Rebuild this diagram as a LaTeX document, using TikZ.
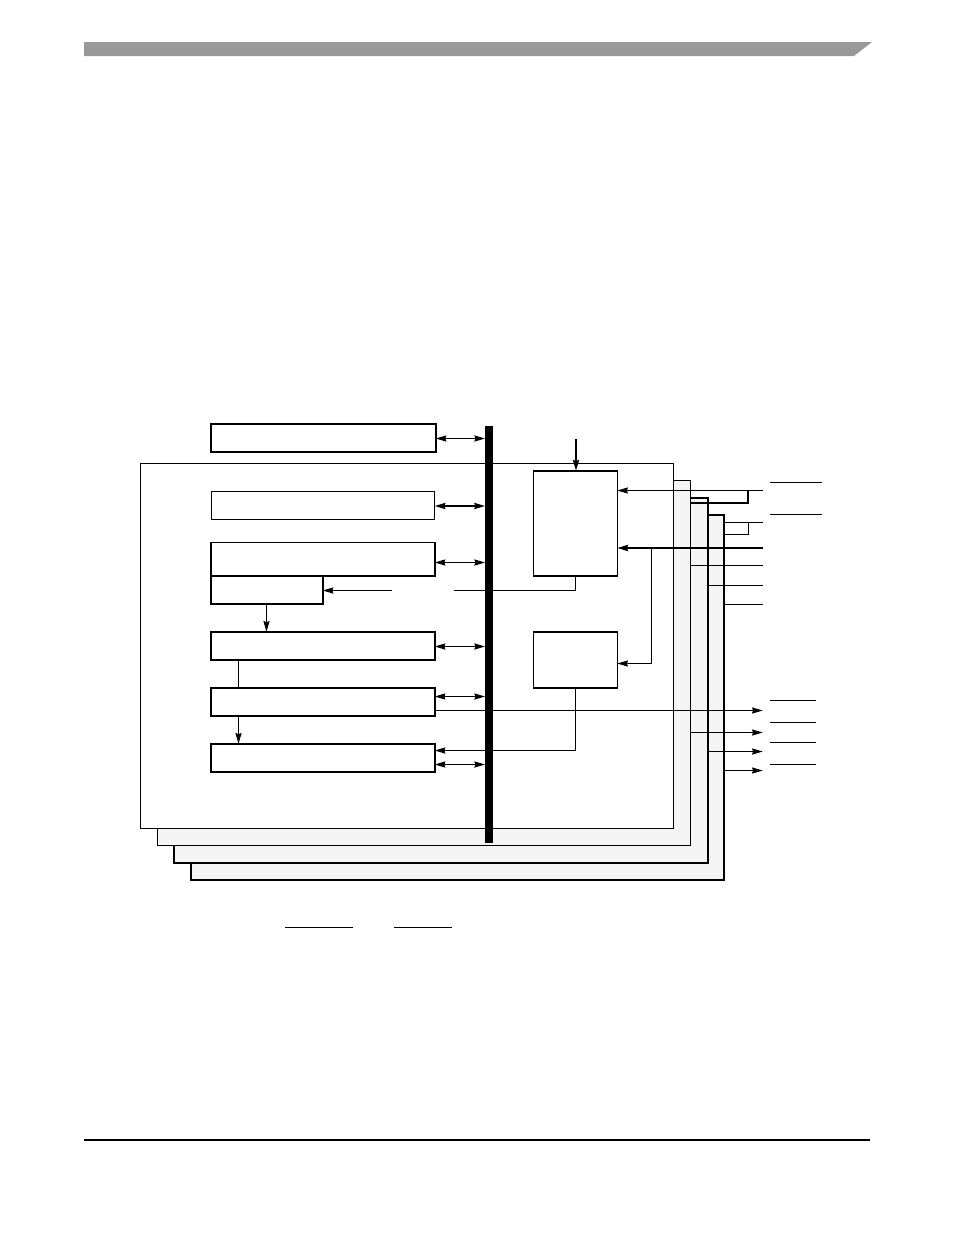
\documentclass[tikz,border=0pt]{standalone}
\usetikzlibrary{arrows.meta,fit}
\definecolor{hdrgray}{HTML}{999999}
\definecolor{framegray}{HTML}{F5F5F5}
\begin{document}
\begin{tikzpicture}[x=0.75pt,y=-0.75pt,
  thinln/.style={line width=0.72pt},
  thickln/.style={line width=1.5pt},
  tip/.style={-{Stealth[length=8pt,width=4.6pt,inset=0.8pt]}},
  dtip/.style={{Stealth[length=8pt,width=4.6pt,inset=0.8pt]}-{Stealth[length=8pt,width=4.6pt,inset=0.8pt]}},
  blk/.style={draw, line width=1.2pt, fill=white, inner sep=0pt, outer sep=0pt},
  lightblk/.style={draw, line width=0.8pt, fill=white, inner sep=0pt, outer sep=0pt},
  frm/.style={draw, fill=framegray, inner sep=0pt, outer sep=0pt},
  bar/.style={line width=0.75pt}
]
\useasboundingbox (0,0) rectangle (954,1235);

% header and footer
\fill[hdrgray] (84,42) -- (872,42) -- (854,56) -- (84,56) -- cycle;
\draw[line width=0.9pt] (84,1140) -- (870,1140);

% stacked frames
\node[frm, line width=1.3pt, fit={(191,515)(724,880)}] (F4) {};
\node[frm, line width=1.5pt, fit={(174,498)(708,863)}] (F3) {};
\node[frm, line width=1.0pt, fit={(157.5,480.5)(690.5,845.5)}] (F2) {};
\node[draw, fill=white, line width=0.9pt, inner sep=0pt, outer sep=0pt, fit={(140.5,463.5)(673.5,828.5)}] (F1) {};

% bus
\node[fill=black, inner sep=0pt, outer sep=0pt, fit={(485,426)(493,843)}] (bus) {};

% left blocks
\node[blk, fit={(210.7,423.7)(435.7,452)}] (T) {};
\node[lightblk, fit={(211.3,491.3)(434.7,519.3)}] (C) {};
\node[blk, fit={(210.7,542.3)(434.7,575.7)}] (D) {};
\node[blk, fit={(210.7,575.7)(322.7,604)}] (S) {};
\node[blk, fit={(210.7,631.7)(434.7,660)}] (G) {};
\node[blk, fit={(210.7,687.7)(434.7,716)}] (E) {};
\node[blk, fit={(210.7,743.7)(434.7,772)}] (Fb) {};

% right blocks
\node[blk, fit={(533.3,470.7)(617.3,576)}] (A) {};
\node[blk, fit={(533.3,631.7)(617.3,688)}] (B) {};

% helper coordinates (y levels)
\coordinate (yT) at (0,438.5);
\coordinate (yC) at (0,506);
\coordinate (yD) at (0,562.5);
\coordinate (yS) at (0,590.5);
\coordinate (yG) at (0,646.5);
\coordinate (yE) at (0,696.5);
\coordinate (yEo) at (0,710.5);
\coordinate (yFi) at (0,750.5);
\coordinate (yFb) at (0,764.5);
\coordinate (yA1) at (0,490.5);
\coordinate (yA2) at (0,548);
\coordinate (yB) at (0,663.5);
\coordinate (xV) at (238.5,0);

% bus connections
\draw[thinln, dtip] (T.east |- yT) -- (bus.west |- yT);
\draw[line width=1.3pt, dtip] (C.east |- yC) -- (bus.west |- yC);
\draw[thinln, dtip] (D.east |- yD) -- (bus.west |- yD);
\draw[thinln, dtip] (G.east |- yG) -- (bus.west |- yG);
\draw[thinln, dtip] (E.east |- yE) -- (bus.west |- yE);
\draw[thinln, dtip] (Fb.east |- yFb) -- (bus.west |- yFb);

% vertical links on left
\coordinate (xS) at (266.5,0);
\draw[thinln, tip] (S.south -| xS) -- (G.north -| xS);
\draw[thinln] (G.south -| xV) -- (E.north -| xV);
\draw[thinln, tip] (E.south -| xV) -- (Fb.north -| xV);

% A bottom to S
\coordinate (xA) at (575.5,0);
\coordinate (aTurn) at (575.5,590.5);
\coordinate (aEnd) at (454,590.5);
\coordinate (sIn) at (391.7,590.5);
\draw[thinln] (A.south -| xA) -- (aTurn) -- (aEnd);
\draw[thinln, tip] (sIn) -- (S.east |- yS);

% B bottom to Fb
\coordinate (bTurn) at (575.5,750.5);
\draw[thinln, tip] (B.south -| xA) -- (bTurn) -- (Fb.east |- yFi);

% top input to A
\coordinate (xAi) at (576,0);
\coordinate (inA) at (576,439);
\draw[thickln, tip] (inA) -- (A.north -| xAi);

% right-hand pins
\coordinate (p1) at (762.7,490.5);
\draw[thinln, tip] (p1) -- (A.east |- yA1);
\coordinate (k1) at (748,490.5);
\coordinate (k2) at (748,503);
\draw[thickln] (k1) -- (k2) -- (F2.east |- k2);

\coordinate (p2) at (762.7,522.5);
\coordinate (k3) at (748.5,522.5);
\coordinate (k4) at (748.5,534.5);
\draw[thinln] (F4.east |- p2) -- (p2);
\draw[thinln] (k3) -- (k4) -- (F4.east |- k4);

\coordinate (p3) at (762.7,548);
\draw[thickln, tip] (p3) -- (A.east |- yA2);
\coordinate (k5) at (651.5,548);
\coordinate (k6) at (651.5,663.5);
\draw[thinln, tip] (k5) -- (k6) -- (B.east |- yB);

\coordinate (p4) at (762.7,565.5);
\coordinate (p5) at (762.7,585.5);
\coordinate (p6) at (762.7,604.5);
\draw[thinln] (F2.east |- p4) -- (p4);
\draw[thinln] (F3.east |- p5) -- (p5);
\draw[thinln] (F4.east |- p6) -- (p6);

% outputs
\coordinate (o1) at (762.7,710.5);
\coordinate (o2) at (762.7,732.5);
\coordinate (o3) at (762.7,751.5);
\coordinate (o4) at (762.7,770.5);
\draw[thinln, tip] (E.east |- yEo) -- (o1);
\draw[thinln, tip] (F2.east |- o2) -- (o2);
\draw[thinln, tip] (F3.east |- o3) -- (o3);
\draw[thinln, tip] (F4.east |- o4) -- (o4);

% overbars of signal names
\draw[bar] (770,482.5) -- (821.7,482.5);
\draw[bar] (770,514.5) -- (821.7,514.5);
\draw[bar] (770,700.5) -- (815.7,700.5);
\draw[bar] (770,722.5) -- (815.7,722.5);
\draw[bar] (770,742.5) -- (815.7,742.5);
\draw[bar] (770,764.5) -- (815.7,764.5);
\draw[bar] (285.3,927.5) -- (352.7,927.5);
\draw[bar] (394,927.5) -- (451.7,927.5);
\end{tikzpicture}
\end{document}
